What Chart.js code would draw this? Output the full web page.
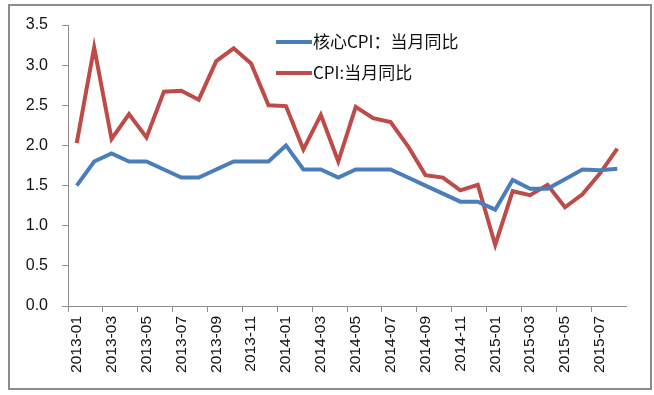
<!DOCTYPE html>
<html>
<head>
<meta charset="utf-8">
<script src="https://cdn.jsdelivr.net/npm/chart.js@4/dist/chart.umd.min.js"></script>
<style>
html,body{margin:0;padding:0;background:#fff;}
#wrap{position:relative;width:654px;height:395px;}
#frame{position:absolute;left:8px;top:4px;width:640px;height:382px;border:2px solid #8c8c8c;box-sizing:content-box;pointer-events:none;}
canvas{position:absolute;left:0;top:0;}
</style>
</head>
<body>
<div id="wrap"><canvas id="c" width="654" height="395"></canvas><div id="frame"></div></div>
<script>
const months = ["2013-01","2013-02","2013-03","2013-04","2013-05","2013-06","2013-07","2013-08","2013-09","2013-10","2013-11","2013-12",
"2014-01","2014-02","2014-03","2014-04","2014-05","2014-06","2014-07","2014-08","2014-09","2014-10","2014-11","2014-12",
"2015-01","2015-02","2015-03","2015-04","2015-05","2015-06","2015-07","2015-08"];
const coreCPI = [1.5,1.8,1.9,1.8,1.8,1.7,1.6,1.6,1.7,1.8,1.8,1.8,
2.0,1.7,1.7,1.6,1.7,1.7,1.7,1.6,1.5,1.4,1.3,1.3,
1.2,1.57,1.46,1.46,1.58,1.7,1.69,1.71];
const cpi = [2.03,3.22,2.08,2.39,2.10,2.67,2.68,2.57,3.05,3.21,3.02,2.50,
2.49,1.95,2.38,1.80,2.48,2.34,2.29,1.99,1.63,1.60,1.44,1.51,
0.76,1.43,1.38,1.51,1.23,1.39,1.65,1.96];
const seriesNames = ["核心CPI：当月同比","CPI:当月同比"];
const yTicks = [0,0.5,1.0,1.5,2.0,2.5,3.0,3.5];

const legendPlugin = {
  id:'customLegend',
  afterDraw(chart){
    const ctx = chart.ctx;
    const rows = [42,73];
    chart.data.datasets.forEach((ds,i)=>{
      ctx.save();
      ctx.strokeStyle = ds.borderColor;
      ctx.lineWidth = 4;
      ctx.beginPath();
      ctx.moveTo(276,rows[i]);
      ctx.lineTo(312,rows[i]);
      ctx.stroke();
      ctx.fillStyle = '#111';
      ctx.font = '17px "Noto Sans CJK SC", "Liberation Sans", sans-serif';
      ctx.textBaseline = 'middle';
      ctx.fillText(ds.label,313,rows[i]);
      ctx.restore();
    });
  }
};

new Chart(document.getElementById('c'),{
  type:'line',
  data:{
    labels:months,
    datasets:[
      {label:seriesNames[0],data:coreCPI,borderColor:'#4a7ebb',borderWidth:4,pointRadius:0,tension:0,fill:false},
      {label:seriesNames[1],data:cpi,borderColor:'#be4b48',borderWidth:4,pointRadius:0,tension:0,fill:false}
    ]
  },
  options:{
    responsive:false,
    animation:false,
    devicePixelRatio:1,
    layout:{padding:{left:0,right:28,top:25,bottom:7}},
    plugins:{legend:{display:false},tooltip:{enabled:false}},
    scales:{
      x:{
        type:'category',
        offset:true,
        afterFit(s){s.height=82;},
        grid:{offset:true,drawOnChartArea:false,drawTicks:true,tickLength:6,
          tickColor:(c)=> (c.index%2===0)?'#8c8c8c':'rgba(0,0,0,0)', color:'#8c8c8c'},
        border:{display:true,color:'#8c8c8c',width:1},
        ticks:{autoSkip:false,maxRotation:90,minRotation:90,padding:4,color:'#111',
          font:{family:'"Liberation Sans", sans-serif',size:15.5},
          callback(v,i){return i%2===0?months[i]:'';}}
      },
      y:{
        min:0,max:3.5,
        afterFit(s){s.width=68;},
        afterBuildTicks(s){s.ticks=yTicks.map(v=>({value:v}));},
        grid:{drawOnChartArea:false,drawTicks:true,tickLength:6,tickColor:'#8c8c8c'},
        border:{display:true,color:'#8c8c8c',width:1},
        ticks:{padding:14,color:'#111',font:{family:'"Liberation Sans", sans-serif',size:16},
          callback(v){return Number(v).toFixed(1);}}
      }
    }
  },
  plugins:[legendPlugin]
});
</script>
</body>
</html>
